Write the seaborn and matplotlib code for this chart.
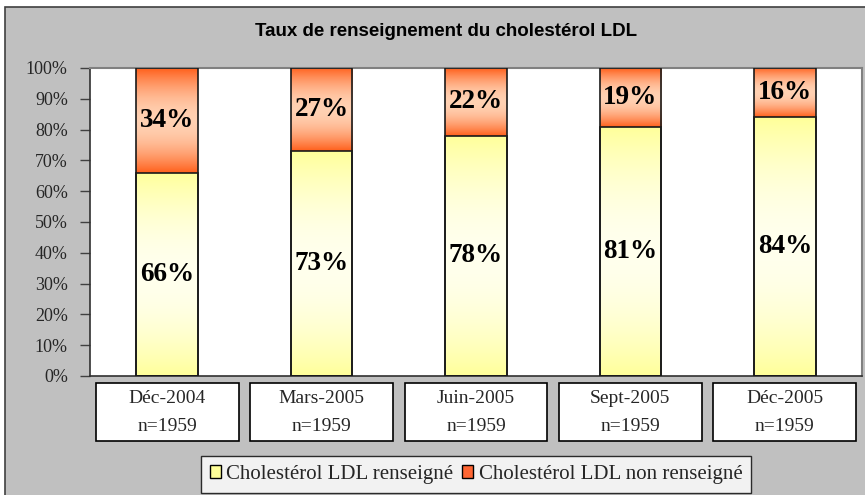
import numpy as np
import pandas as pd
import matplotlib
matplotlib.use('Agg')
import matplotlib.pyplot as plt
import matplotlib.transforms as mtransforms
from matplotlib.patches import Rectangle, Patch
import seaborn as sns

# Data
periods = ['Déc-2004', 'Mars-2005', 'Juin-2005', 'Sept-2005', 'Déc-2005']
effectifs = [1959, 1959, 1959, 1959, 1959]
renseigne = [66, 73, 78, 81, 84]
non_renseigne = [34, 27, 22, 19, 16]

labels = [f'{p}\nn={n}' for p, n in zip(periods, effectifs)]
df = pd.DataFrame({
    'periode': labels,
    'renseigne': renseigne,
    'total': [a + b for a, b in zip(renseigne, non_renseigne)],
})

sns.set_style('white')
plt.rcParams['font.family'] = ['Liberation Serif', 'DejaVu Serif']

YELLOW_EDGE = np.array([1.0, 1.0, 0.6])
YELLOW_MID = np.array([1.0, 1.0, 0.93])
RED_EDGE = np.array([1.0, 0.37, 0.10])
RED_MID = np.array([1.0, 0.82, 0.70])

fig = plt.figure(figsize=(8.65, 4.95), dpi=100, facecolor='white')
# grey chart area with its border
fig.patches.append(Rectangle((5 / 865, -0.02), 1.0, 1 - 7 / 495 + 0.02,
                             transform=fig.transFigure, facecolor='#C0C0C0',
                             edgecolor='#404040', linewidth=1.2, zorder=-5))

ax = fig.add_axes([90 / 865, (495 - 376) / 495, 772 / 865, 308 / 495])
ax.set_facecolor('white')

sns.barplot(data=df, x='periode', y='total', color='#FF6633', width=0.4,
            edgecolor='#1a1a1a', linewidth=1.2, ax=ax, zorder=3)
n_red = len(ax.patches)
sns.barplot(data=df, x='periode', y='renseigne', color='#FFFF99', width=0.4,
            edgecolor='#1a1a1a', linewidth=1.2, ax=ax, zorder=3)
red_bars = ax.patches[:n_red]
yellow_bars = ax.patches[n_red:]


def gradient(edge, mid, n=200):
    t = np.linspace(0, 1, n)
    w = np.sin(np.pi * t) ** 0.9
    col = edge[None, :] + (mid - edge)[None, :] * w[:, None]
    return col[:, None, :]


for bar, low in zip(red_bars, renseigne):
    x0 = bar.get_x()
    im = ax.imshow(gradient(RED_EDGE, RED_MID), extent=(x0, x0 + bar.get_width(), low, bar.get_height()),
                   origin='lower', aspect='auto', zorder=2.2)
    im.set_clip_path(bar)
    bar.set_facecolor('none')
for bar in yellow_bars:
    x0 = bar.get_x()
    im = ax.imshow(gradient(YELLOW_EDGE, YELLOW_MID), extent=(x0, x0 + bar.get_width(), 0, bar.get_height()),
                   origin='lower', aspect='auto', zorder=2.5)
    im.set_clip_path(bar)
    bar.set_facecolor('none')
for bar in yellow_bars:
    bar.set_zorder(4)

# percentage labels
for i, (a, b) in enumerate(zip(renseigne, non_renseigne)):
    ax.text(i, a / 2, f'{a}%', ha='center', va='center', fontsize=19.5,
            fontweight='bold', color='black', zorder=6)
    ax.text(i, a + b / 2, f'{b}%', ha='center', va='center', fontsize=19.5,
            fontweight='bold', color='black', zorder=6)

ax.set_xlim(-0.5, len(periods) - 0.5)
ax.set_ylim(0, 100)
ax.set_yticks(range(0, 101, 10))
ax.set_yticklabels([f'{v}%' for v in range(0, 101, 10)], fontsize=13)
ax.set_xlabel('')
ax.set_ylabel('')

ax.set_xticks(range(len(periods)))
ax.set_xticklabels(labels, fontsize=14, linespacing=1.85)
ax.set_xticks(np.arange(-0.5, len(periods), 1.0), minor=True)
ax.tick_params(axis='x', which='major', length=0, pad=10)
ax.tick_params(axis='x', which='minor', length=12, direction='inout',
               width=1, color='#404040')
ax.tick_params(axis='y', length=7, direction='out', width=1,
               color='#404040', pad=9, left=True)

for s in ['left', 'bottom']:
    ax.spines[s].set_color('#303030')
    ax.spines[s].set_linewidth(1.2)
for s in ['top', 'right']:
    ax.spines[s].set_color('#808080')
    ax.spines[s].set_linewidth(1.5)

# boxes around category labels
trans = mtransforms.blended_transform_factory(ax.transData, ax.transAxes)
for i in range(len(periods)):
    ax.add_patch(Rectangle((i - 0.463, -0.211), 0.926, 0.188, transform=trans,
                           facecolor='white', edgecolor='black', linewidth=1.2,
                           clip_on=False, zorder=0.2))

# legend
handles = [Patch(facecolor='#FFFF99', edgecolor='black', label='Cholestérol LDL renseigné'),
           Patch(facecolor='#FF6633', edgecolor='black', label='Cholestérol LDL non renseigné')]
leg = ax.legend(handles=handles, loc='upper center', bbox_to_anchor=(0.5, -0.26),
                ncol=2, fontsize=15, frameon=True, fancybox=False,
                handlelength=0.55, handleheight=0.55, handletextpad=0.25,
                columnspacing=0.4, borderpad=0.42, borderaxespad=0)
leg.get_frame().set_edgecolor('black')
leg.get_frame().set_linewidth(1.0)
leg.get_frame().set_facecolor('white')

fig.text(446 / 865, 1 - 31 / 495, 'Taux de renseignement du cholestérol LDL',
         ha='center', va='center', fontsize=13.5, fontweight='bold', color='black',
         family=['Liberation Sans', 'DejaVu Sans'])

fig.savefig('out.png', dpi=100, facecolor='white')
